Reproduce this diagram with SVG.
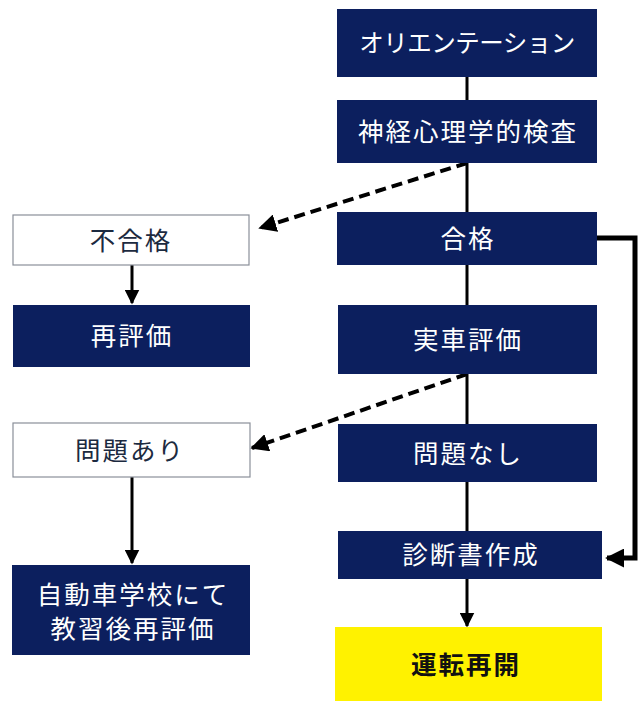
<svg xmlns="http://www.w3.org/2000/svg" width="640" height="703" viewBox="0 0 640 703">
<style>
.n{fill:#0c1f5e}
.w{fill:#fff;stroke:#8a8f99;stroke-width:1.2}
.y{fill:#fff200}
text{font-family:"Noto Sans CJK JP","Noto Sans",sans-serif;font-size:25.5px;font-weight:normal;text-anchor:middle;letter-spacing:2px}
.tw{fill:#fff}
.td{fill:#1c2a40}
.tb{fill:#111;font-weight:bold}
.l{stroke:#000;stroke-width:3;fill:none}
.d{stroke:#000;stroke-width:4;fill:none;stroke-dasharray:11 6}
.t{stroke:#000;stroke-width:5;fill:none}
</style>
<defs>
<marker id="a" viewBox="0 0 10 10" refX="9" refY="5" markerWidth="5" markerHeight="5" orient="auto"><path d="M0,0L10,5L0,10z" fill="#000"/></marker>
<marker id="c" viewBox="0 0 10 10" refX="9" refY="5" markerWidth="4.5" markerHeight="4.5" orient="auto"><path d="M0,0L10,5L0,10z" fill="#000"/></marker>
<marker id="b" viewBox="0 0 10 10" refX="9" refY="5" markerWidth="3.8" markerHeight="3.8" orient="auto"><path d="M0,0L10,5L0,10z" fill="#000"/></marker>
</defs>
<rect width="640" height="703" fill="#fff"/>
<g id="connectors">
<path class="l" d="M467,77V100M467,163V212M467,265V305M467,374V424M467,482V531"/>
<path class="l" d="M467,579V626" marker-end="url(#a)"/>
<path class="d" d="M467,163L260,228" marker-end="url(#c)"/>
<path class="d" d="M467,374L252,448" marker-end="url(#c)"/>
<path class="l" d="M132,265V303" marker-end="url(#a)"/>
<path class="l" d="M132,477V563" marker-end="url(#a)"/>
<path class="t" d="M597,238H635V558H607" marker-end="url(#b)"/>
</g>
<g id="n1"><rect class="n" x="337" y="9" width="260" height="68"/><text class="tw" x="467" y="52" style="letter-spacing:-0.5px;font-size:24.5px">オリエンテーション</text></g>
<g id="n2"><rect class="n" x="337" y="100" width="260" height="63"/><text class="tw" x="468" y="141">神経心理学的検査</text></g>
<g id="n3"><rect class="n" x="337" y="212" width="260" height="53"/><text class="tw" x="468" y="248">合格</text></g>
<g id="n4"><rect class="n" x="338" y="305" width="259" height="69"/><text class="tw" x="468" y="349">実車評価</text></g>
<g id="n5"><rect class="n" x="338" y="424" width="259" height="58"/><text class="tw" x="468" y="463">問題なし</text></g>
<g id="n6"><rect class="n" x="338" y="531" width="264" height="48"/><text class="tw" x="471" y="564">診断書作成</text></g>
<g id="n7"><rect class="y" x="335" y="627" width="267" height="74"/><text class="tb" x="466" y="674">運転再開</text></g>
<g id="n8"><rect class="w" x="13" y="215" width="236" height="50"/><text class="td" x="131" y="250">不合格</text></g>
<g id="n9"><rect class="n" x="13" y="305" width="237" height="62"/><text class="tw" x="132" y="345">再評価</text></g>
<g id="n10"><rect class="w" x="13" y="423" width="237" height="54"/><text class="td" x="130" y="460">問題あり</text></g>
<g id="n11"><rect class="n" x="12" y="565" width="238" height="90"/><text class="tw" x="133" y="604">自動車学校にて</text><text class="tw" x="133" y="638">教習後再評価</text></g>
</svg>
